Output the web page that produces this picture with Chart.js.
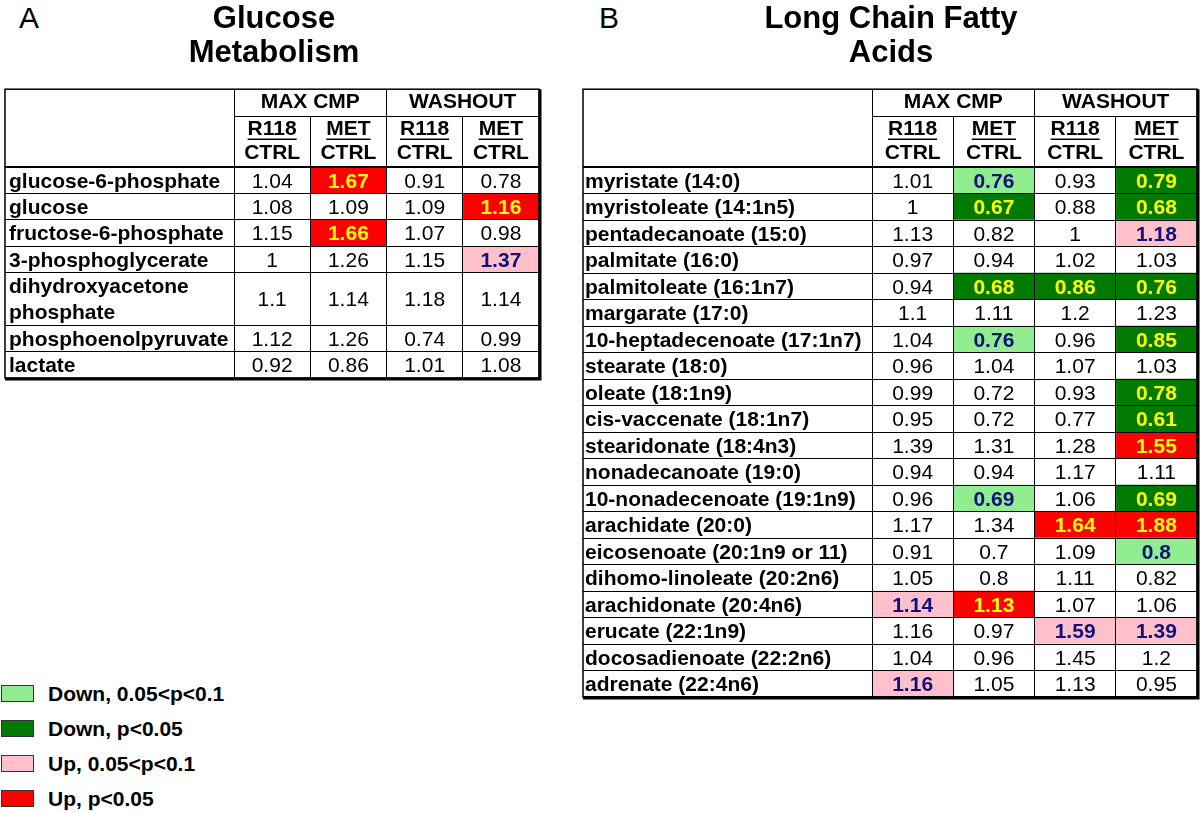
<!DOCTYPE html>
<html>
<head>
<meta charset="utf-8">
<script src="https://cdn.jsdelivr.net/npm/chart.js@4.4.0/dist/chart.umd.min.js"></script>
<style>
  body { margin: 0; background: #fff; width: 1200px; height: 813px; position: relative; overflow: hidden;
         font-family: 'Liberation Sans', Arial, sans-serif; }
  canvas { position: absolute; top: 0; }
  #chartA { left: 0; }
  #chartB { left: 578px; }
  .panel { position: absolute; top: 0; font-size: 30px; line-height: 36px; }
  #legend { position: absolute; left: 1px; top: 685px; }
  .item { position: relative; height: 35px; }
  .box { position: absolute; left: 0; top: 0; width: 31px; height: 15px; border: 1px solid #333; }
  .lbl { position: absolute; left: 47px; top: -3px; font-weight: bold; font-size: 21px; line-height: 24px; white-space: nowrap; }
</style>
</head>
<body>
<div class="panel" style="left:19px">A</div>
<div class="panel" style="left:599px">B</div>
<canvas id="chartA" width="545" height="382"></canvas>
<canvas id="chartB" width="622" height="701"></canvas>
<div id="legend"></div>
<script>
Chart.defaults.font.family = "'Liberation Sans', Arial, sans-serif";
Chart.defaults.color = '#000';

// header labels
const columnLabels = [['R118', 'CTRL'], ['MET', 'CTRL'], ['R118', 'CTRL'], ['MET', 'CTRL']];
const groupLabels = ['MAX CMP', 'WASHOUT'];

// A - glucose metabolism
const glucoseNames = ['glucose-6-phosphate', 'glucose', 'fructose-6-phosphate', '3-phosphoglycerate',
  'dihydroxyacetone phosphate', 'phosphoenolpyruvate', 'lactate'];
const glucoseMaxR118  = [1.04, 1.08, 1.15, 1, 1.1, 1.12, 0.92];
const glucoseMaxMet   = [1.67, 1.09, 1.66, 1.26, 1.14, 1.26, 0.86];
const glucoseWashR118 = [0.91, 1.09, 1.07, 1.15, 1.18, 0.74, 1.01];
const glucoseWashMet  = [0.78, 1.16, 0.98, 1.37, 1.14, 0.99, 1.08];
// significance: d = down 0.05<p<0.1, D = down p<0.05, u = up 0.05<p<0.1, U = up p<0.05
const glucoseSigMaxR118  = ['', '', '', '', '', '', ''];
const glucoseSigMaxMet   = ['U', '', 'U', '', '', '', ''];
const glucoseSigWashR118 = ['', '', '', '', '', '', ''];
const glucoseSigWashMet  = ['', 'U', '', 'u', '', '', ''];

// B - long chain fatty acids
const fattyNames = ['myristate (14:0)', 'myristoleate (14:1n5)', 'pentadecanoate (15:0)', 'palmitate (16:0)',
  'palmitoleate (16:1n7)', 'margarate (17:0)', '10-heptadecenoate (17:1n7)', 'stearate (18:0)',
  'oleate (18:1n9)', 'cis-vaccenate (18:1n7)', 'stearidonate (18:4n3)', 'nonadecanoate (19:0)',
  '10-nonadecenoate (19:1n9)', 'arachidate (20:0)', 'eicosenoate (20:1n9 or 11)', 'dihomo-linoleate (20:2n6)',
  'arachidonate (20:4n6)', 'erucate (22:1n9)', 'docosadienoate (22:2n6)', 'adrenate (22:4n6)'];
const fattyMaxR118  = [1.01, 1, 1.13, 0.97, 0.94, 1.1, 1.04, 0.96, 0.99, 0.95, 1.39, 0.94, 0.96, 1.17, 0.91, 1.05, 1.14, 1.16, 1.04, 1.16];
const fattyMaxMet   = [0.76, 0.67, 0.82, 0.94, 0.68, 1.11, 0.76, 1.04, 0.72, 0.72, 1.31, 0.94, 0.69, 1.34, 0.7, 0.8, 1.13, 0.97, 0.96, 1.05];
const fattyWashR118 = [0.93, 0.88, 1, 1.02, 0.86, 1.2, 0.96, 1.07, 0.93, 0.77, 1.28, 1.17, 1.06, 1.64, 1.09, 1.11, 1.07, 1.59, 1.45, 1.13];
const fattyWashMet  = [0.79, 0.68, 1.18, 1.03, 0.76, 1.23, 0.85, 1.03, 0.78, 0.61, 1.55, 1.11, 0.69, 1.88, 0.8, 0.82, 1.06, 1.39, 1.2, 0.95];
const fattySigMaxR118  = ['', '', '', '', '', '', '', '', '', '', '', '', '', '', '', '', 'u', '', '', 'u'];
const fattySigMaxMet   = ['d', 'D', '', '', 'D', '', 'd', '', '', '', '', '', 'd', '', '', '', 'U', '', '', ''];
const fattySigWashR118 = ['', '', '', '', 'D', '', '', '', '', '', '', '', '', 'U', '', '', '', 'u', '', ''];
const fattySigWashMet  = ['D', 'D', 'u', '', 'D', '', 'D', '', 'D', 'D', 'U', '', 'D', 'U', 'd', '', '', 'u', '', ''];

const legendLabels = ['Down, 0.05<p<0.1', 'Down, p<0.05', 'Up, 0.05<p<0.1', 'Up, p<0.05'];
const legendCodes = ['d', 'D', 'u', 'U'];

const sigFill = { '': '#ffffff', d: '#90ee90', D: '#007a00', u: '#ffc0cb', U: '#ff0000' };
const sigInk = { '': '#000000', d: '#10107a', D: '#ffff00', u: '#10107a', U: '#ffff00' };
const FONT = "'Liberation Sans', Arial, sans-serif";

function wrapLabel(text, maxWidth) {
  const c = document.createElement('canvas').getContext('2d');
  c.font = 'bold 21px ' + FONT;
  const lines = [];
  let line = '';
  text.split(' ').forEach(w => {
    const test = line ? line + ' ' + w : w;
    if (line && c.measureText(test).width > maxWidth) { lines.push(line); line = w; }
    else line = test;
  });
  lines.push(line);
  return lines;
}

function makeTable(id, title, names, values, sigs, labelWidth, inset, padRight) {
  // one slot per wrapped label line, a row spans its lines
  const slots = [], rowOf = [], firstSlot = [], span = [];
  names.forEach((n, r) => {
    const lines = wrapLabel(n, labelWidth);
    firstSlot.push(slots.length);
    span.push(lines.length);
    lines.forEach(l => { slots.push(l); rowOf.push(r); });
  });

  const datasets = values.map((col, c) => ({
    data: slots.map(() => [c, c + 1]),
    backgroundColor: slots.map((_, s) => sigFill[sigs[c][rowOf[s]]])
  }));

  const cellText = {
    id: 'cellText',
    afterDatasetsDraw(chart) {
      const ctx = chart.ctx;
      ctx.save();
      ctx.textAlign = 'center';
      ctx.textBaseline = 'middle';
      values.forEach((col, c) => {
        const bars = chart.getDatasetMeta(c).data;
        col.forEach((v, r) => {
          const a = bars[firstSlot[r]], b = bars[firstSlot[r] + span[r] - 1];
          const code = sigs[c][r];
          ctx.font = (code ? 'bold ' : '') + '21px ' + FONT;
          ctx.fillStyle = sigInk[code];
          ctx.fillText(String(v), (a.x + a.base) / 2, (a.y + b.y) / 2 + 1.5);
        });
      });
      ctx.restore();
    }
  };

  const frame = {
    id: 'frame',
    afterDraw(chart) {
      const { ctx, chartArea, scales } = chart;
      const left = scales.y.right - scales.y.options.grid.tickLength;
      const top = scales.groups.top;
      ctx.save();
      ctx.strokeStyle = '#000';
      ctx.lineWidth = 1.5;
      ctx.strokeRect(left, top, chartArea.right - left, chartArea.bottom - top);
      ctx.lineWidth = 3;
      ctx.beginPath();
      ctx.moveTo(chartArea.right + 1, top);
      ctx.lineTo(chartArea.right + 1, chartArea.bottom + 1);
      ctx.lineTo(left, chartArea.bottom + 1);
      ctx.stroke();
      // underline first header word
      const cols = scales.cols;
      ctx.font = 'bold 21px ' + FONT;
      ctx.lineWidth = 1.5;
      columnLabels.forEach((lab, i) => {
        const x = cols.getPixelForTick(i);
        const w = ctx.measureText(lab[0]).width;
        ctx.beginPath();
        ctx.moveTo(x - w / 2, cols.top + 23);
        ctx.lineTo(x + w / 2, cols.top + 23);
        ctx.stroke();
      });
      ctx.restore();
    }
  };

  return new Chart(document.getElementById(id), {
    type: 'bar',
    data: { labels: slots, datasets: datasets },
    plugins: [cellText, frame],
    options: {
      responsive: false,
      animation: false,
      indexAxis: 'y',
      layout: { padding: { left: inset, right: padRight, top: 0, bottom: 4 } },
      datasets: { bar: { grouped: false, barPercentage: 1, categoryPercentage: 1, borderWidth: 0 } },
      plugins: {
        legend: { display: false },
        tooltip: { enabled: false },
        title: {
          display: true,
          text: title,
          color: '#000',
          font: { size: 31, weight: 'bold', lineHeight: 1.1 },
          padding: { top: 2, bottom: 19 }
        }
      },
      scales: {
        x: { type: 'linear', min: 0, max: 4, display: false },
        y: {
          type: 'category',
          offset: true,
          border: { display: false },
          grid: {
            offset: true,
            z: 1,
            tickLength: labelWidth + inset - 5,
            color: ctx => (ctx.index > 0 && ctx.index < slots.length && rowOf[ctx.index] === rowOf[ctx.index - 1]) ? 'rgba(0,0,0,0)' : '#000',
            lineWidth: ctx => ctx.index === 0 ? 2 : 1
          },
          ticks: { crossAlign: 'far', autoSkip: false, labelOffset: 1.5, color: '#000', font: { size: 21, weight: 'bold' } },
          afterFit: s => { s.width = labelWidth; s.paddingTop = 0; s.paddingBottom = 0; }
        },
        cols: {
          type: 'category',
          axis: 'x',
          position: 'top',
          weight: 1,
          labels: columnLabels,
          offset: true,
          border: { color: '#000', width: 1, z: 1 },
          grid: { offset: true, z: 1, tickLength: 51, color: '#000', drawOnChartArea: true },
          ticks: { autoSkip: false, maxRotation: 0, padding: -49, color: '#000', font: { size: 21, weight: 'bold', lineHeight: 1.143 } },
          afterFit: s => { s.height = 51; }
        },
        groups: {
          type: 'category',
          axis: 'x',
          position: 'top',
          weight: 2,
          labels: groupLabels,
          offset: true,
          border: { color: '#000', width: 1 },
          grid: { offset: true, tickLength: 27, color: '#000', drawOnChartArea: false },
          ticks: { autoSkip: false, maxRotation: 0, padding: -25, color: '#000', font: { size: 21, weight: 'bold', lineHeight: 1.143 } },
          afterFit: s => { s.height = 27; }
        }
      }
    }
  });
}

makeTable('chartA', ['Glucose', 'Metabolism'], glucoseNames,
  [glucoseMaxR118, glucoseMaxMet, glucoseWashR118, glucoseWashMet],
  [glucoseSigMaxR118, glucoseSigMaxMet, glucoseSigWashR118, glucoseSigWashMet],
  225, 9, 6);

makeTable('chartB', ['Long Chain Fatty', 'Acids'], fattyNames,
  [fattyMaxR118, fattyMaxMet, fattyWashR118, fattyWashMet],
  [fattySigMaxR118, fattySigMaxMet, fattySigWashR118, fattySigWashMet],
  287, 7, 3);

// legend
const legendEl = document.getElementById('legend');
legendLabels.forEach((txt, i) => {
  const item = document.createElement('div');
  item.className = 'item';
  const box = document.createElement('div');
  box.className = 'box';
  box.style.background = sigFill[legendCodes[i]];
  const lbl = document.createElement('div');
  lbl.className = 'lbl';
  lbl.textContent = txt;
  item.appendChild(box);
  item.appendChild(lbl);
  legendEl.appendChild(item);
});
</script>
</body>
</html>
